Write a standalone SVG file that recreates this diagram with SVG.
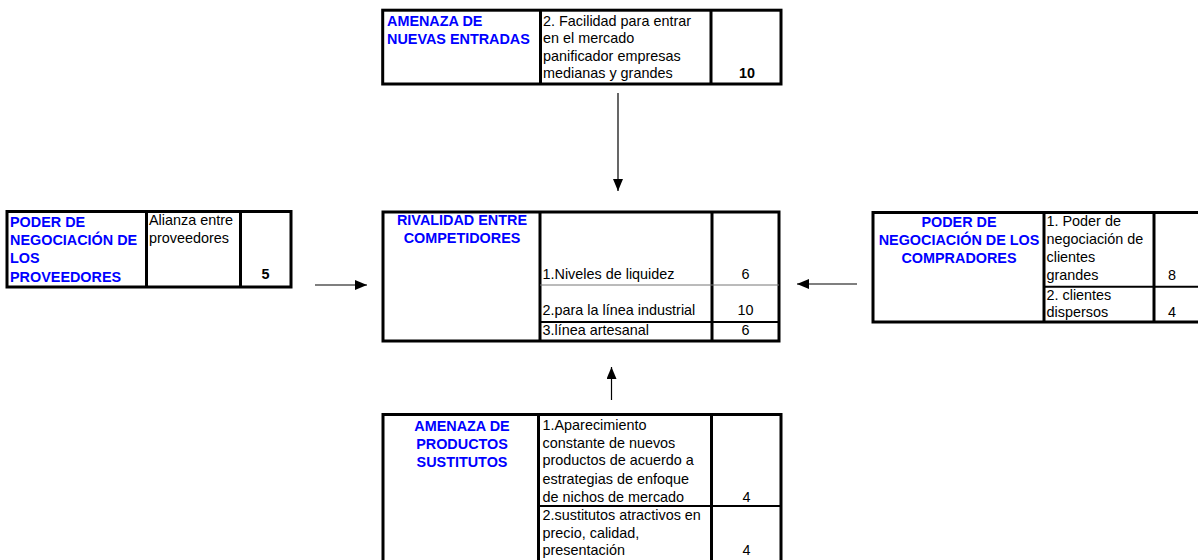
<svg xmlns="http://www.w3.org/2000/svg" width="1198" height="560" viewBox="0 0 1198 560">
<style>
text{font-family:"Liberation Sans",Arial,sans-serif;font-size:14.4px;fill:#000}
.h{font-weight:bold;fill:#0000ff}
.b{font-weight:bold}
.m{text-anchor:middle}
.box{fill:#fff;stroke:#000;stroke-width:3}
.div{stroke:#000;stroke-width:3}
.row{stroke:#000;stroke-width:2}
.thin{stroke:#777;stroke-width:1}
.conn{stroke:#000;stroke-width:1.2;fill:none;marker-end:url(#ah)}
</style>
<defs>
<marker id="ah" markerUnits="userSpaceOnUse" markerWidth="13" markerHeight="10" refX="12" refY="5" orient="auto">
<path d="M0,0 L12,5 L0,10 Z" fill="#000"/>
</marker>
</defs>
<rect width="1198" height="560" fill="#fff"/>

<g id="amenaza-nuevas">
<rect class="box" x="382.7" y="10.2" width="398.3" height="73.8"/>
<line class="div" x1="540.5" y1="10.2" x2="540.5" y2="84"/>
<line class="div" x1="711" y1="10.2" x2="711" y2="84"/>
<text class="h" x="387" y="26">AMENAZA DE</text>
<text class="h" x="387" y="43.5">NUEVAS ENTRADAS</text>
<text x="543" y="25.5">2. Facilidad para entrar</text>
<text x="543" y="43">en el mercado</text>
<text x="543" y="60.5">panificador empresas</text>
<text x="543" y="78">medianas y grandes</text>
<text class="b m" x="747" y="77.5">10</text>
</g>

<g id="proveedores">
<rect class="box" x="7" y="211.5" width="284" height="75.5"/>
<line class="div" x1="146.5" y1="211.5" x2="146.5" y2="287"/>
<line class="div" x1="240.5" y1="211.5" x2="240.5" y2="287"/>
<text class="h" x="10" y="226.5">PODER DE</text>
<text class="h" x="10" y="244.5">NEGOCIACIÓN DE</text>
<text class="h" x="10" y="263">LOS</text>
<text class="h" x="10" y="281.5">PROVEEDORES</text>
<text x="149" y="225">Alianza entre</text>
<text x="149" y="243">proveedores</text>
<text class="b m" x="265.5" y="279">5</text>
</g>

<g id="rivalidad">
<rect class="box" x="383" y="212" width="396" height="129"/>
<line class="div" x1="540" y1="212" x2="540" y2="341"/>
<line class="div" x1="712" y1="212" x2="712" y2="341"/>
<line class="thin" x1="540" y1="285" x2="779" y2="285"/>
<line class="row" x1="540" y1="322" x2="779" y2="322"/>
<text class="h m" x="462" y="225">RIVALIDAD ENTRE</text>
<text class="h m" x="462" y="243">COMPETIDORES</text>
<text x="542.5" y="279">1.Niveles de liquidez</text>
<text class="m" x="745.5" y="279">6</text>
<text x="542.5" y="315">2.para la línea industrial</text>
<text class="m" x="745.5" y="315">10</text>
<text x="542.5" y="334.5">3.línea artesanal</text>
<text class="m" x="745.5" y="334.5">6</text>
</g>

<g id="compradores">
<path class="div" fill="#fff" d="M1198,212.5 H873 V322 H1198"/>
<line class="div" x1="1044" y1="212.5" x2="1044" y2="322"/>
<line class="div" x1="1154" y1="212.5" x2="1154" y2="322"/>
<line class="row" x1="1044" y1="286.7" x2="1198" y2="286.7"/>
<text class="h m" x="959" y="226.5">PODER DE</text>
<text class="h m" x="959" y="244.5">NEGOCIACIÓN DE LOS</text>
<text class="h m" x="959" y="262.5">COMPRADORES</text>
<text x="1046.5" y="225.5">1. Poder de</text>
<text x="1046.5" y="244">negociación de</text>
<text x="1046.5" y="262">clientes</text>
<text x="1046.5" y="280">grandes</text>
<text class="m" x="1172" y="280">8</text>
<text x="1046.5" y="299.5">2. clientes</text>
<text x="1046.5" y="317">dispersos</text>
<text class="m" x="1172" y="317">4</text>
</g>

<g id="sustitutos">
<path class="div" fill="#fff" d="M383,560 V414.5 H781 V560"/>
<line class="div" x1="538.5" y1="414.5" x2="538.5" y2="560"/>
<line class="div" x1="711.5" y1="414.5" x2="711.5" y2="560"/>
<line class="row" x1="538.5" y1="506" x2="781" y2="506"/>
<text class="h m" x="462" y="430.5">AMENAZA DE</text>
<text class="h m" x="462" y="448.5">PRODUCTOS</text>
<text class="h m" x="462" y="467">SUSTITUTOS</text>
<text x="542.5" y="430">1.Aparecimiento</text>
<text x="542.5" y="447.5">constante de nuevos</text>
<text x="542.5" y="465">productos de acuerdo a</text>
<text x="542.5" y="483.5">estrategias de enfoque</text>
<text x="542.5" y="501.5">de nichos de mercado</text>
<text class="m" x="746.5" y="501.5">4</text>
<text x="542.5" y="520">2.sustitutos atractivos en</text>
<text x="542.5" y="537.5">precio, calidad,</text>
<text x="542.5" y="555">presentación</text>
<text class="m" x="746.5" y="555">4</text>
</g>

<g id="connectors">
<line class="conn" x1="618" y1="93" x2="618" y2="191"/>
<line class="conn" x1="315" y1="285" x2="367" y2="285"/>
<line class="conn" x1="857" y1="284" x2="797" y2="284"/>
<line class="conn" x1="611.5" y1="400" x2="611.5" y2="367"/>
</g>
</svg>
